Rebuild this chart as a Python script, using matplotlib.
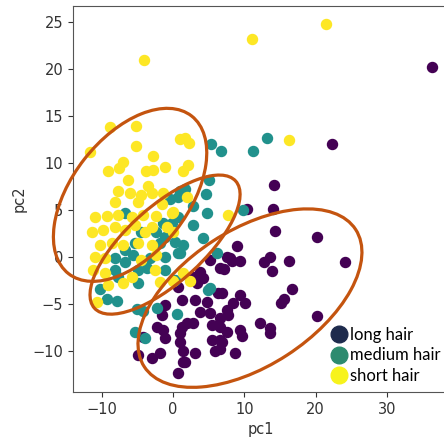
import matplotlib
matplotlib.use("Agg")
import matplotlib.pyplot as plt
from matplotlib.lines import Line2D
from matplotlib.patches import Ellipse
from matplotlib.transforms import ScaledTranslation

# scatter points (pc1, pc2)
long_x = [36.3, 22.3, 14.2, 14.0, 10.4, 14.3, 20.2, 24.1, 16.3, 13.6, 12.8, 13.9,
          16.7, 15.5, 15.2, 20.2, 9.0, 8.3, 9.4, 7.6, 7.2, 6.6, 5.2, 3.8, 4.2, 2.8,
          12.2, 13.6, 13.6, 9.4, 9.7, 8.7, 7.6, 6.6, 7.7, 7.6, 8.4, 9.4, 10.1, 6.9,
          0.7, 3.4, 6.3, 1.3, 3.1, 4.8, -1.1, -1.5, 3.8, 5.2, 2.8, 6.6, -2.2, -1.4,
          1.3, 2.0, 5.5, 6.6, -1.1, 1.0, 1.0, 5.5, 6.9, 1.4, 3.1, -1.8, -2.9, -4.9,
          1.4, 0.7, 5.9, 6.6, -4.2, 1.7, 8.0]
long_y = [20.2, 12.0, 7.6, 5.1, 5.1, 2.8, 2.1, -0.6, -0.4, 0.0, -0.5, -1.5,
          -3.4, -4.5, -4.9, -6.3, 1.1, -0.4, -0.4, 0.0, -1.3, -1.2, -0.3, -1.6, -2.3, -2.1,
          -7.1, -7.6, -8.1, -7.8, -8.4, -10.2, -8.0, -8.9, -6.2, -5.7, -4.9, -4.1, -4.9, -3.9,
          -3.2, -2.8, -3.9, -4.6, -4.6, -4.8, -5.1, -6.2, -5.9, -6.0, -7.0, -6.5, -7.5, -7.8,
          -7.5, -7.0, -7.3, -7.5, -8.7, -8.1, -9.1, -8.9, -9.1, -10.0, -10.2, -10.2, -10.8, -10.5,
          -11.2, -12.4, -10.0, -9.8, -8.5, -11.2, -0.1]

medium_x = [13.2, 11.2, 5.4, 6.8, 9.8, 5.1, 4.7, -0.4, 1.0, 1.7, 2.8, 2.8, 4.2,
            6.2, 5.2, 1.0, 1.4, 0.5, 4.9, 0.6, -6.7, -1.4, -0.1, 0.7, 0.7, -4.4,
            -2.3, -1.1, -5.3, -6.7, -1.8, 0.3, -8.1, -6.7, -5.6, -3.2, -1.1, 0.7,
            -8.1, -4.9, -3.6, -1.1, -7.7, -4.9, 0.3, -9.3, -7.8, -10.2, -5.0, -4.2,
            -5.3, -3.9, -2.2, 4.8]
medium_y = [12.7, 11.3, 12.0, 11.3, 5.0, 8.2, 6.7, 6.2, 7.0, 7.2, 5.4, 3.4, 2.0,
            0.4, -3.3, 0.4, 1.3, 4.2, -3.5, -6.1, 4.7, 3.6, 3.6, 4.2, 6.4, 2.6,
            2.6, 2.1, 1.5, 0.7, 1.5, 1.6, -0.1, -0.5, 0.2, -0.1, 0.0, 0.4,
            -1.4, -1.4, -1.2, -1.4, -2.2, -2.8, -2.5, -4.5, -4.7, -3.4, -5.6, -5.8,
            -8.0, -8.6, -5.4, 4.7]

short_x = [-4.0, 11.1, 21.5, 16.3, -8.8, -5.2, -5.2, -11.6, -2.8, -7.0, -7.5, -9.1,
           -3.7, -2.8, -1.1, 1.0, 1.7, 2.3, 2.1, 1.4, -6.3, -3.5, 2.0,
           -7.7, -6.0, -4.4, -2.9, -8.1, -4.9, -1.5, -10.9, -9.2, -7.7, -5.7, -4.2,
           -2.3, -0.1, -11.4, -9.8, -8.1, -6.7, -5.3, -3.9, -2.9, -0.8, -10.2, -8.5,
           -7.0, -4.9, -2.9, 0.0, -10.9, -9.5, -4.4, -2.3, -11.2, -9.5, -5.7, -2.5,
           -9.1, -7.0, -1.8, -10.7, 0.0, 2.4, 1.4, 7.7, 0.0, -1.4]
short_y = [21.0, 23.2, 24.8, 12.4, 13.8, 13.9, 11.8, 11.2, 10.7, 10.1, 9.5, 9.1,
           9.1, 9.2, 9.6, 12.5, 12.7, 12.1, 9.8, 9.1, 8.2, 7.5, 6.4,
           7.0, 6.8, 6.6, 6.8, 5.8, 5.8, 5.6, 4.2, 4.3, 4.5, 4.2, 4.5,
           4.3, 4.7, 2.6, 2.9, 3.2, 2.9, 3.4, 2.6, 3.2, 3.2, 1.3, 1.5,
           1.3, 1.5, 1.3, 2.6, 0.0, -0.1, -0.3, 0.2, -1.4, -1.7, -2.1, -1.4,
           -3.0, -2.8, -2.7, -4.8, -2.6, -2.6, -1.7, 4.5, 4.8, 6.8]

# hand-drawn cluster ellipses: centre (data), semi axes (pixels), angle (deg)
ellipse_centres = [(-6.0, 6.6), (-1.1, 1.3), (10.8, -4.4)]
ellipse_axes = [(100, 58), (95, 38), (126, 68)]
ellipse_angles = [52, 42, 33]

legend_labels = ["long hair", "medium hair", "short hair"]
legend_colors = ["#1e2b4d", "#2d8b6f", "#f7f31c"]

fig = plt.figure(figsize=(4.44, 4.38), dpi=100)
ax = fig.add_axes([0.1644, 0.105, 0.847, 0.881])

ax.scatter(long_x, long_y, s=52, color="#440154", zorder=2)
ax.scatter(medium_x, medium_y, s=52, color="#21918c", zorder=2)
ax.scatter(short_x, short_y, s=52, color="#fde725", zorder=2)

for (cx, cy), (a, b), ang in zip(ellipse_centres, ellipse_axes, ellipse_angles):
    tr = fig.dpi_scale_trans + ScaledTranslation(cx, cy, ax.transData)
    ax.add_patch(Ellipse((0, 0), 2 * a / 100, 2 * b / 100, angle=ang,
                         transform=tr, fill=False, edgecolor="#c4540f",
                         linewidth=2.3, zorder=3, clip_on=False))

ax.set_xlim(-14, 38.7)
ax.set_ylim(-14.4, 26.7)
ax.set_xticks([-10, 0, 10, 20, 30])
ax.set_yticks([-10, -5, 0, 5, 10, 15, 20, 25])
ax.tick_params(labelsize=10.5, colors="#333333")
for sp in ax.spines.values():
    sp.set_color("#555555")
ax.set_xlabel("pc1", fontsize=10.5, color="#333333")
ax.set_ylabel("pc2", fontsize=10.5, color="#333333")

handles = [Line2D([], [], marker="o", linestyle="none", markersize=12,
                  color=c) for c in legend_colors]
fig.legend(handles, legend_labels, loc="upper left",
           bbox_to_anchor=(0.725, 0.268), frameon=False,
           prop={"family": "Lato", "size": 12},
           handletextpad=0.1, labelspacing=0.25, borderaxespad=0,
           handlelength=1.2)

fig.savefig("out.png", dpi=100)
